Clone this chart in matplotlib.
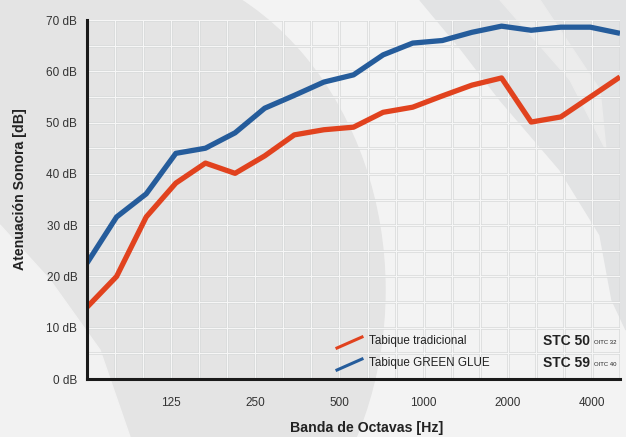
import matplotlib
matplotlib.use("Agg")
import matplotlib.pyplot as plt
from matplotlib.patches import Ellipse, Polygon
from matplotlib.lines import Line2D

plt.rcParams['font.family'] = ['Liberation Sans', 'DejaVu Sans']

# ---------------- data ----------------
# 1/3 octave bands drawn by the line (19 points)
bands = ['80', '100', '125', '160', '200', '250', '315', '400', '500', '630',
         '800', '1000', '1250', '1600', '2000', '2500', '3150', '4000', '5000']
tradicional = [14.0, 20.0, 31.6, 38.2, 42.1, 40.1, 43.5, 47.6, 48.6, 49.1,
               52.0, 53.0, 55.2, 57.3, 58.7, 50.1, 51.1, 55.0, 58.9]
green_glue = [22.6, 31.6, 36.1, 44.0, 45.0, 48.0, 52.8, 55.3, 57.9, 59.3,
              63.2, 65.5, 66.0, 67.6, 68.8, 68.0, 68.6, 68.6, 67.4]

# grid of the chart: 63 Hz .. 5000 Hz in 1/3 octaves, labels every octave
grid_bands = ['63', '80', '100', '125', '160', '200', '250', '315', '400', '500',
              '630', '800', '1000', '1250', '1600', '2000', '2500', '3150', '4000', '5000']
octave_labels = ['125', '250', '500', '1000', '2000', '4000']
y_ticks = [0, 10, 20, 30, 40, 50, 60, 70]

series = ['Tabique tradicional', 'Tabique GREEN GLUE']
stc = ['STC 50', 'STC 59']
oitc = ['OITC 32', 'OITC 40']

RED = '#e1421e'
BLUE = '#255c9b'
TXT = '#333333'

W, H = 626, 437
def fx(x):
    return x / W
def fy(y):
    return 1 - y / H

fig = plt.figure(figsize=(W / 100, H / 100), dpi=100, facecolor='#f3f3f3')

# ---------------- decorative background ----------------
bg = [
    Ellipse((fx(110), fy(290)), 2 * 275 / W, 2 * 330 / H, color='#e4e4e4'),
    Polygon([(fx(0), fy(225)), (fx(50), fy(280)), (fx(100), fy(350)),
             (fx(130), fy(437)), (fx(0), fy(437))], closed=True, color='#f2f2f2'),
    Polygon([(fx(420), fy(0)), (fx(626), fy(0)), (fx(626), fy(330)),
             (fx(612), fy(300)), (fx(600), fy(235)), (fx(560), fy(170)),
             (fx(500), fy(100)), (fx(460), fy(48))], closed=True, color='#e2e3e4'),
    Polygon([(fx(500), fy(0)), (fx(540), fy(0)), (fx(600), fy(90)),
             (fx(606), fy(150)), (fx(570), fy(80))], closed=True, color='#ececec'),
]
for p in bg:
    p.set_transform(fig.transFigure)
    p.set_zorder(-10)
    fig.patches.append(p)

# ---------------- axes ----------------
ax = fig.add_axes([fx(87), fy(379), fx(620) - fx(87), fy(20) - fy(379)])
ax.patch.set_visible(False)
ax.set_xlim(0, len(grid_bands) - 1)
ax.set_ylim(0, 70)
for s in ax.spines.values():
    s.set_visible(False)

# grid (grey edge + white core so it reads on both background tones)
for i in range(1, len(grid_bands)):
    ax.axvline(i, color='#d9dbdb', lw=1.8, zorder=0.5)
    ax.axvline(i, color='#f7f7f7', lw=0.7, zorder=0.6)
for v in range(5, 75, 5):
    ax.axhline(v, color='#d9dbdb', lw=1.8, zorder=0.5)
    ax.axhline(v, color='#f7f7f7', lw=0.7, zorder=0.6)

ax.set_xticks([grid_bands.index(b) for b in octave_labels])
ax.set_xticklabels(octave_labels)
ax.set_yticks(y_ticks)
ax.set_yticklabels([f'{v} dB' for v in y_ticks])
ax.tick_params(axis='x', length=0, pad=13, labelsize=8.5, labelcolor=TXT)
ax.tick_params(axis='y', length=0, pad=7, labelsize=8.5, labelcolor=TXT)

# data lines on an overlaid x scale (19 points across the full width)
ax2 = ax.twiny()
ax2.set_xlim(0, len(bands) - 1)
ax2.set_xticks([])
for k in ['top', 'right']:
    ax2.spines[k].set_visible(False)
for k in ['left', 'bottom']:
    ax2.spines[k].set_color('#1a1a1a')
    ax2.spines[k].set_linewidth(2.2)

x = list(range(len(bands)))
ax2.plot(x, tradicional, color=RED, lw=3.8, solid_capstyle='butt')
ax2.plot(x, green_glue, color=BLUE, lw=3.8, solid_capstyle='butt')

# ---------------- legend ----------------
for col, yy in [(RED, 0), (BLUE, 22)]:
    fig.add_artist(Line2D([fx(337), fx(362)], [fy(348 + yy), fy(337 + yy)],
                          transform=fig.transFigure, color=col, lw=2.2))
for i, yy in enumerate([341, 363]):
    fig.text(fx(369), fy(yy), series[i], fontsize=8.4, color='#222222', va='center')
    fig.text(fx(543), fy(yy), stc[i], fontsize=10, fontweight='bold', color='#222222', va='center')
    fig.text(fx(594), fy(yy + 2), oitc[i], fontsize=4.3, color='#222222', va='center')

# ---------------- axis titles ----------------
fig.text(fx(367), fy(428), 'Banda de Octavas [Hz]', fontsize=10.2, fontweight='bold',
         color='#222222', ha='center', va='center')
fig.text(fx(20), fy(189), 'Atenuación Sonora [dB]', fontsize=10.2, fontweight='bold',
         color='#222222', ha='center', va='center', rotation=90)

plt.savefig('out.png', dpi=100, facecolor=fig.get_facecolor())
